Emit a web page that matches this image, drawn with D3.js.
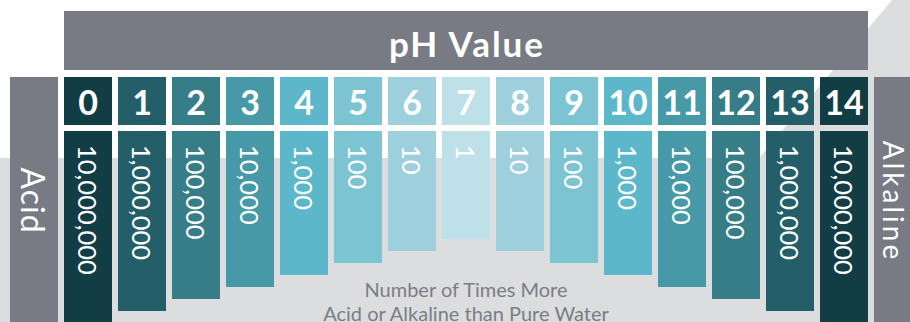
<!DOCTYPE html>
<html>
<head>
<meta charset="utf-8">
<script src="https://cdn.jsdelivr.net/npm/d3@7"></script>
<style>
  html, body { margin: 0; padding: 0; background: #ffffff; }
  svg { display: block; }
</style>
</head>
<body>
<svg id="chart" width="910" height="322"></svg>
<script>
// pH scale: each step is ten times more acid/alkaline than pure water
const phLevels = [0, 1, 2, 3, 4, 5, 6, 7, 8, 9, 10, 11, 12, 13, 14];
const timesMore = [1e7, 1e6, 1e5, 1e4, 1e3, 100, 10, 1, 10, 100, 1e3, 1e4, 1e5, 1e6, 1e7];
const valueLabels = ["10,000,000", "1,000,000", "100,000", "10,000", "1,000", "100", "10", "1",
                     "10", "100", "1,000", "10,000", "100,000", "1,000,000", "10,000,000"];
const tileColors = ["#133d45", "#245f69", "#377d87", "#4899a8", "#5bb7c9", "#7dc4d2", "#9dd0dc", "#bee0e8",
                    "#9dd0dc", "#7dc4d2", "#5bb7c9", "#4899a8", "#377d87", "#245f69", "#133d45"];
const titleText = "pH Value";
const leftLabel = "Acid";
const rightLabel = "Alkaline";
const footerLines = ["Number of Times More", "Acid or Alkaline than Pure Water"];

const svg = d3.select("#chart");
const W = 910, H = 322;
const font = "Lato, 'Open Sans', sans-serif";

// background: light grey floor with a diagonal wedge rising to the top right
svg.append("rect").attr("width", W).attr("height", H).attr("fill", "#ffffff");
svg.append("path")
  .attr("d", d3.line()([[0, 158], [759, 158], [892, 0], [W, 0], [W, H], [0, H]]) + "Z")
  .attr("fill", "#dcdddf");

// band scale for the 15 pH columns
const x = d3.scaleBand()
  .domain(phLevels)
  .range([64, 868])
  .paddingInner(6 / 54)
  .paddingOuter(0);

// bar length grows one step per order of magnitude
const barTop = 131;
const y = d3.scaleLog().domain([1, 1e7]).range([239, 323]);

// title bar
svg.append("rect")
  .attr("x", 64).attr("y", 11).attr("width", 804).attr("height", 59)
  .attr("fill", "#787b84");
svg.append("text")
  .attr("x", 467).attr("y", 57)
  .attr("text-anchor", "middle")
  .attr("font-family", font).attr("font-weight", 700)
  .attr("font-size", 35).attr("letter-spacing", 2)
  .attr("fill", "#ffffff")
  .text(titleText);

// side bars
svg.append("rect").attr("x", 10).attr("y", 77).attr("width", 48).attr("height", H - 77).attr("fill", "#787b84");
svg.append("rect").attr("x", 874).attr("y", 77).attr("width", 48).attr("height", H - 77).attr("fill", "#787b84");

function sideLabel(baseX, txt, size, spacing) {
  svg.append("text")
    .attr("transform", `translate(${baseX},${200 + spacing / 2}) rotate(90)`)
    .attr("text-anchor", "middle")
    .attr("font-family", font).attr("font-weight", 400)
    .attr("font-size", size).attr("letter-spacing", spacing)
    .attr("fill", "#ffffff")
    .text(txt);
}
sideLabel(21, leftLabel, 32, 1);
sideLabel(883, rightLabel, 28, 3);

const cols = phLevels.map((p, i) => ({ p, v: timesMore[i], label: valueLabels[i], color: tileColors[i] }));

// header tiles with the pH number
const head = svg.append("g").selectAll("g").data(cols).join("g");
head.append("rect")
  .attr("x", d => x(d.p)).attr("y", 77)
  .attr("width", x.bandwidth()).attr("height", 48)
  .attr("fill", d => d.color);
head.append("text")
  .attr("x", d => x(d.p) + x.bandwidth() / 2).attr("y", 115)
  .attr("text-anchor", "middle")
  .attr("font-family", font).attr("font-weight", 700)
  .attr("font-size", 34).attr("fill", "#ffffff")
  .text(d => d.p);

// value bars
const bars = svg.append("g").selectAll("g").data(cols).join("g");
bars.append("rect")
  .attr("x", d => x(d.p)).attr("y", barTop)
  .attr("width", x.bandwidth()).attr("height", d => y(d.v) - barTop)
  .attr("fill", d => d.color);
bars.append("text")
  .attr("transform", d => `translate(${x(d.p) + x.bandwidth() / 2},145) rotate(90)`)
  .attr("text-anchor", "start")
  .attr("dominant-baseline", "central")
  .attr("font-family", font).attr("font-weight", 400)
  .attr("font-size", 25.5).attr("fill", "#ffffff")
  .text(d => d.label);

// footer caption
svg.append("g").selectAll("text").data(footerLines).join("text")
  .attr("x", 466).attr("y", (d, i) => 297 + i * 24)
  .attr("text-anchor", "middle")
  .attr("font-family", font).attr("font-weight", 400)
  .attr("font-size", 20).attr("fill", "#7a7d85")
  .text(d => d);
</script>
</body>
</html>
